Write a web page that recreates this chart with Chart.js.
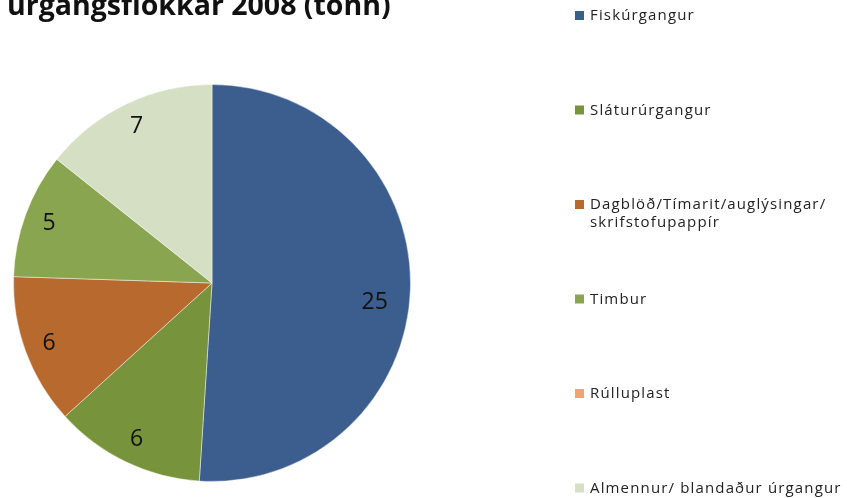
<!DOCTYPE html>
<html lang="is">
<head>
    <meta charset="UTF-8">
    <title>úrgangsflokkar 2008 (tonn)</title>
    <script src="https://cdn.jsdelivr.net/npm/chart.js"></script>
    <style>
        html, body { margin: 0; padding: 0; background: #fff; }
        #wrap { width: 847px; height: 498px; position: relative; }
    </style>
</head>
<body>
<div id="wrap">
    <canvas id="pie"></canvas>
</div>
<script>
    // Data (tonn)
    const categories = ['Fiskúrgangur', 'Sláturúrgangur', 'Dagblöð/Tímarit/auglýsingar/ skrifstofupappír', 'Timbur', 'Rúlluplast', 'Almennur/ blandaður úrgangur'];
    const legendLines = [['Fiskúrgangur'], ['Sláturúrgangur'], ['Dagblöð/Tímarit/auglýsingar/', 'skrifstofupappír'], ['Timbur'], ['Rúlluplast'], ['Almennur/ blandaður úrgangur']];
    const values = [25, 6, 6, 5, 0, 7];
    const colors = ['#3b5e8e', '#77933c', '#b8692e', '#8aa54f', '#f7a26c', '#d5dfc3'];
    const titleText = 'úrgangsflokkar 2008 (tonn)';

    // title, value labels and a legend drawn straight on the canvas
    const extras = {
        id: 'extras',
        afterDatasetsDraw(chart) {
            const ctx = chart.ctx;
            const meta = chart.getDatasetMeta(0);
            ctx.save();
            ctx.fillStyle = '#111';
            ctx.textAlign = 'center';
            ctx.textBaseline = 'middle';
            ctx.font = '23px "Open Sans", sans-serif';
            meta.data.forEach((arc, i) => {
                if (!values[i]) return;
                const p = arc.getProps(['x', 'y', 'startAngle', 'endAngle', 'outerRadius']);
                const mid = (p.startAngle + p.endAngle) / 2;
                // big slice label sits a bit further in, like the original
                const r = p.outerRadius * (values[i] > 20 ? 0.82 : 0.875);
                ctx.fillText(String(values[i]), p.x + Math.cos(mid) * r, p.y + Math.sin(mid) * r + (values[i] > 20 ? 14 : 0));
            });
            ctx.restore();
        },
        afterDraw(chart) {
            const ctx = chart.ctx;
            ctx.save();
            // title (top is cut off in the source)
            ctx.fillStyle = '#111';
            ctx.textAlign = 'left';
            ctx.textBaseline = 'alphabetic';
            ctx.font = 'bold 28.5px "Open Sans", sans-serif';
            ctx.fillText(titleText, 7, 15);

            // legend
            ctx.font = '15px "Open Sans", sans-serif';
            ctx.letterSpacing = '1.15px';
            ctx.textBaseline = 'middle';
            const top = 16, step = 94.5, lineH = 18;
            legendLines.forEach((lines, i) => {
                const y = top + i * step;
                ctx.fillStyle = colors[i];
                ctx.fillRect(575, y - 5, 9, 9);
                ctx.fillStyle = '#222';
                lines.forEach((t, j) => ctx.fillText(t, 590, y + j * lineH));
            });
            ctx.restore();
        }
    };

    new Chart(document.getElementById('pie'), {
        type: 'pie',
        data: {
            labels: categories,
            datasets: [{
                data: values,
                backgroundColor: colors,
                borderColor: 'rgba(255,255,255,0.45)',
                borderWidth: 1
            }]
        },
        options: {
            responsive: true,
            maintainAspectRatio: false,
            animation: false,
            layout: { padding: { left: 13, right: 436, top: 84, bottom: 16 } },
            plugins: {
                legend: { display: false },
                title: { display: false },
                tooltip: { enabled: false }
            }
        },
        plugins: [extras]
    });
</script>
</body>
</html>
